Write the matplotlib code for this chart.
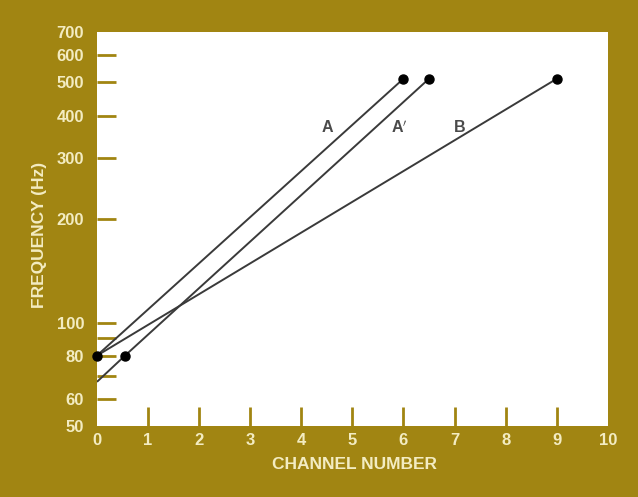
import matplotlib
matplotlib.use("Agg")
import matplotlib.pyplot as plt

# Data
a_x = [0, 6.0]
a_y = [80, 512]
a_prime_x = [0.02, 0.55, 6.5]
a_prime_y = [67.5, 80, 512]
a_prime_dots_x = [0.55, 6.5]
a_prime_dots_y = [80, 512]
b_x = [0, 9.0]
b_y = [80, 512]

y_ticks = [50, 60, 70, 80, 90, 100, 200, 300, 400, 500, 600, 700]
y_labels = ["50", "60", "", "80", "", "100", "200", "300", "400", "500", "600", "700"]
x_ticks = list(range(0, 11))
x_labels = [str(v) for v in x_ticks]

curve_labels = ["A", "A$^{\\prime}$", "B"]
curve_label_x = [4.52, 5.92, 7.1]
curve_label_y = [370, 370, 370]

gold = "#a18512"
cream = "#f3ecc2"
line_c = "#3a3a3a"

fig = plt.figure(figsize=(6.38, 4.97), dpi=100, facecolor=gold)
ax = fig.add_axes([0.1515, 0.1429, 0.8015, 0.7927])
ax.set_facecolor("white")
ax.set_yscale("log")
ax.set_xlim(0, 10)
ax.set_ylim(50, 700)

ax.plot(a_x, a_y, color=line_c, lw=1.4, zorder=2)
ax.plot(a_prime_x, a_prime_y, color=line_c, lw=1.4, zorder=2)
ax.plot(b_x, b_y, color=line_c, lw=1.4, zorder=2)
ax.plot([a_x[-1]], [a_y[-1]], "o", color="black", ms=6.5, clip_on=False, zorder=3)
ax.plot(a_prime_dots_x, a_prime_dots_y, "o", color="black", ms=6.5, clip_on=False, zorder=3)
ax.plot(b_x, b_y, "o", color="black", ms=6.5, clip_on=False, zorder=3, markevery=[0, 1])

for t, x, y in zip(curve_labels, curve_label_x, curve_label_y):
    ax.text(x, y, t, ha="center", va="center", fontsize=11.5, fontweight="bold",
            color="#4a4a4a", family="Liberation Sans")

for s in ax.spines.values():
    s.set_visible(False)

ax.yaxis.set_minor_locator(matplotlib.ticker.NullLocator())
ax.set_yticks(y_ticks)
ax.set_yticklabels(y_labels)
ax.set_xticks(x_ticks)
ax.set_xticklabels(x_labels)
ax.tick_params(axis="both", direction="in", color=gold, width=2, length=14,
               labelcolor=cream, labelsize=12)
ax.tick_params(axis="y", pad=9)
ax.tick_params(axis="x", pad=5)
for lbl in ax.get_xticklabels() + ax.get_yticklabels():
    lbl.set_family("Liberation Sans")
    lbl.set_fontweight("bold")

xt = ax.xaxis.get_major_ticks()
xt[0].tick1line.set_visible(False)
xt[-1].tick1line.set_visible(False)
yt = ax.yaxis.get_major_ticks()
yt[0].tick1line.set_visible(False)
yt[-1].tick1line.set_visible(False)

ax.set_xlabel("CHANNEL NUMBER", color=cream, fontsize=12.5, fontweight="bold",
              family="Liberation Sans", va="center")
ax.set_ylabel("FREQUENCY (Hz)", color=cream, fontsize=12.5, fontweight="bold",
              family="Liberation Sans", va="center")
ax.xaxis.set_label_coords(0.505, -0.099)
ax.yaxis.set_label_coords(-0.111, 0.485)

fig.savefig("out.png", dpi=100, facecolor=gold)
